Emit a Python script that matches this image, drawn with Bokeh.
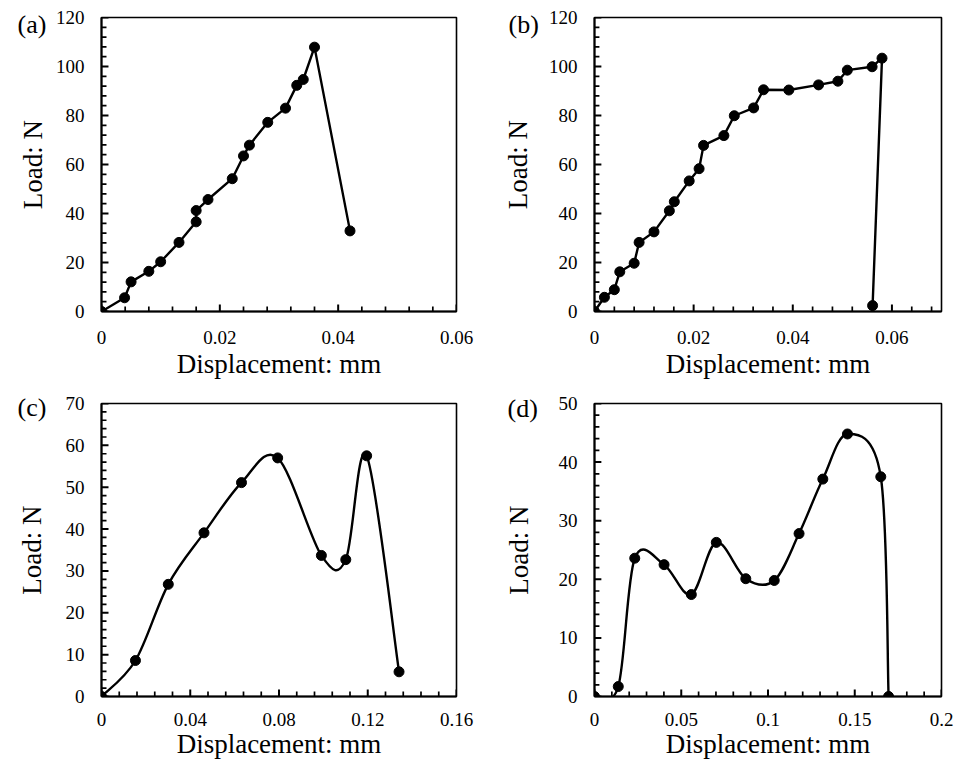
from bokeh.plotting import figure
from bokeh.models import Range1d, FixedTicker, CustomJSTickFormatter
from bokeh.layouts import gridplot
from bokeh.embed import file_html
from bokeh.resources import INLINE
import numpy as np

# ---------------- data ----------------
a_disp = [0, 0.0039, 0.0050, 0.0080, 0.0100, 0.0131, 0.0160, 0.0160, 0.0180, 0.0221,
          0.0240, 0.0250, 0.0281, 0.0311, 0.0330, 0.0341, 0.0360, 0.0420]
a_load = [0, 5.6, 12.1, 16.4, 20.3, 28.2, 36.6, 41.2, 45.7, 54.2,
          63.5, 67.9, 77.2, 83.0, 92.3, 94.7, 107.9, 32.9]

b_disp = [0, 0.0020, 0.0040, 0.0051, 0.0080, 0.0090, 0.0120, 0.0151, 0.0161, 0.0191,
          0.0211, 0.0220, 0.0261, 0.0282, 0.0321, 0.0341, 0.0392, 0.0452, 0.0491,
          0.0510, 0.0560, 0.0580, 0.0561]
b_load = [0, 5.8, 8.9, 16.2, 19.7, 28.2, 32.5, 41.1, 44.8, 53.3,
          58.3, 67.8, 71.8, 79.9, 83.1, 90.5, 90.4, 92.5, 94.0,
          98.5, 99.9, 103.4, 2.4]

c_disp = [0, 0.0153, 0.0301, 0.0462, 0.0631, 0.0794, 0.0991, 0.1101, 0.1195, 0.1341]
c_load = [0, 8.6, 26.8, 39.1, 51.1, 57.0, 33.7, 32.7, 57.5, 5.9]

d_disp = [0, 0.0137, 0.0232, 0.0401, 0.0558, 0.0702, 0.0872, 0.1036, 0.1179, 0.1316,
          0.1458, 0.1650, 0.1695]
d_load = [0, 1.7, 23.6, 22.5, 17.4, 26.3, 20.1, 19.8, 27.8, 37.1,
          44.8, 37.5, 0]

a_xticks = [0, 0.02, 0.04, 0.06]
a_xlabels = ["0", "0.02", "0.04", "0.06"]
a_xmax = 0.06
a_yticks = [0, 20, 40, 60, 80, 100, 120]
a_ylabels = ["0", "20", "40", "60", "80", "100", "120"]

b_xticks = [0, 0.02, 0.04, 0.06]
b_xlabels = ["0", "0.02", "0.04", "0.06"]
b_xmax = 0.07
b_yticks = [0, 20, 40, 60, 80, 100, 120]
b_ylabels = ["0", "20", "40", "60", "80", "100", "120"]

c_xticks = [0, 0.04, 0.08, 0.12, 0.16]
c_xlabels = ["0", "0.04", "0.08", "0.12", "0.16"]
c_xmax = 0.16
c_yticks = [0, 10, 20, 30, 40, 50, 60, 70]
c_ylabels = ["0", "10", "20", "30", "40", "50", "60", "70"]

d_xticks = [0, 0.05, 0.1, 0.15, 0.2]
d_xlabels = ["0", "0.05", "0.1", "0.15", "0.2"]
d_xmax = 0.2
d_yticks = [0, 10, 20, 30, 40, 50]
d_ylabels = ["0", "10", "20", "30", "40", "50"]

x_title = "Displacement: mm"
y_title = "Load: N"
panel_letters = ["(a)", "(b)", "(c)", "(d)"]

FONT = "Liberation Serif"
MAJOR_LEN = 7    # px, inward
MINOR_LEN = 5    # px, inward


def label_formatter(ticks, labels):
    return CustomJSTickFormatter(
        args=dict(t=ticks, l=labels),
        code="""
        for (let i = 0; i < t.length; i++) {
            if (Math.abs(t[i] - tick) < 1e-9) { return l[i]; }
        }
        return '';
        """)


def minor_list(ticks, n, vmax):
    step = (ticks[1] - ticks[0]) / n
    out = []
    k = 1
    while k * step < vmax - 1e-12:
        v = k * step
        if min(abs(v - t) for t in ticks) > 1e-12:
            out.append(v)
        k += 1
    return out


def smooth_segments(xs, ys):
    P = np.column_stack([xs, ys]).astype(float)
    n = len(P)
    seg = dict(x0=[], y0=[], x1=[], y1=[], cx0=[], cy0=[], cx1=[], cy1=[])
    for i in range(n - 1):
        pp = P[i - 1] if i > 0 else P[i]
        pn = P[i + 2] if i + 2 < n else P[i + 1]
        c0 = P[i] + (P[i + 1] - pp) / 6.0
        c1 = P[i + 1] - (pn - P[i]) / 6.0
        seg["x0"].append(P[i][0]); seg["y0"].append(P[i][1])
        seg["x1"].append(P[i + 1][0]); seg["y1"].append(P[i + 1][1])
        seg["cx0"].append(c0[0]); seg["cy0"].append(c0[1])
        seg["cx1"].append(c1[0]); seg["cy1"].append(c1[1])
    return seg


def make_panel(w, h, borders, xt, xl, xmax, yt, yl, xs, ys, smooth, letter,
               letter_offset, letter_standoff, x_std, x_lab_std, y_lab_std):
    L, R, T, B = borders
    ymax = yt[-1]
    fw = w - L - R
    fh = h - T - B
    p = figure(width=w, height=h, output_backend="svg", toolbar_location=None,
               x_range=Range1d(0, xmax), y_range=Range1d(0, ymax),
               min_border_left=L, min_border_right=R, min_border_top=T,
               min_border_bottom=B)
    p.background_fill_color = "white"
    p.border_fill_color = "white"
    p.xgrid.visible = False
    p.ygrid.visible = False
    p.outline_line_color = "black"
    p.outline_line_width = 1.6
    p.outline_line_alpha = 1.0

    p.title.text = letter
    p.title.align = "left"
    p.title.offset = letter_offset
    p.title.standoff = letter_standoff
    p.title.text_font = FONT
    p.title.text_font_size = "26px"
    p.title.text_font_style = "normal"
    p.title.text_color = "black"

    xminor = minor_list(xt, 5, xmax)
    yminor = minor_list(yt, 5, ymax)
    p.xaxis.ticker = FixedTicker(ticks=xt, minor_ticks=xminor)
    p.yaxis.ticker = FixedTicker(ticks=yt, minor_ticks=yminor)
    p.xaxis.formatter = label_formatter(xt, xl)
    p.yaxis.formatter = label_formatter(yt, yl)
    p.xaxis.axis_label = x_title
    p.yaxis.axis_label = y_title
    for ax in (p.xaxis[0], p.yaxis[0]):
        ax.axis_line_color = "black"
        ax.axis_line_width = 2
        ax.major_tick_in = 0
        ax.major_tick_out = 0
        ax.minor_tick_in = 0
        ax.minor_tick_out = 0
        ax.major_label_text_font = FONT
        ax.major_label_text_font_size = "19px"
        ax.major_label_text_color = "black"
        ax.axis_label_text_font = FONT
        ax.axis_label_text_font_size = "27px"
        ax.axis_label_text_font_style = "normal"
        ax.axis_label_text_color = "black"
    p.xaxis.major_label_standoff = x_std
    p.xaxis.axis_label_standoff = x_lab_std
    p.yaxis.major_label_standoff = 17
    p.yaxis.axis_label_standoff = y_lab_std

    # inward tick marks drawn as short segments (length converted from px to data units)
    dx_major = MAJOR_LEN * xmax / fw
    dx_minor = MINOR_LEN * xmax / fw
    dy_major = MAJOR_LEN * ymax / fh
    dy_minor = MINOR_LEN * ymax / fh
    p.segment(x0=[0] * len(yt), y0=yt, x1=[dx_major] * len(yt), y1=yt,
              line_color="black", line_width=2)
    p.segment(x0=[0] * len(yminor), y0=yminor, x1=[dx_minor] * len(yminor), y1=yminor,
              line_color="black", line_width=1.7)
    p.segment(x0=xt, y0=[0] * len(xt), x1=xt, y1=[dy_major] * len(xt),
              line_color="black", line_width=2)
    p.segment(x0=xminor, y0=[0] * len(xminor), x1=xminor, y1=[dy_minor] * len(xminor),
              line_color="black", line_width=1.7)

    if smooth:
        seg = smooth_segments(xs, ys)
        p.bezier(source=seg, x0="x0", y0="y0", x1="x1", y1="y1",
                 cx0="cx0", cy0="cy0", cx1="cx1", cy1="cy1",
                 line_color="black", line_width=2.4)
    else:
        p.line(xs, ys, line_color="black", line_width=2.4)
    p.scatter(xs, ys, size=10, fill_color="black", line_color="black")
    return p


pa = make_panel(484, 385, (100, 28, 17, 72), a_xticks, a_xlabels, a_xmax, a_yticks, a_ylabels,
                a_disp, a_load, False, panel_letters[0], -84, -42, 19, 2, 5)
pb = make_panel(484, 385, (104, 27, 14, 74), b_xticks, b_xlabels, b_xmax, b_yticks, b_ylabels,
                b_disp, b_load, False, panel_letters[1], -86, -43, 19, 2, 13)
pc = make_panel(484, 379, (101, 28, 18, 66), c_xticks, c_xlabels, c_xmax, c_yticks, c_ylabels,
                c_disp, c_load, True, panel_letters[2], -84, -36, 16, 0, 16)
pd = make_panel(484, 379, (110, 20, 16, 68), d_xticks, d_xlabels, d_xmax, d_yticks, d_ylabels,
                d_disp, d_load, True, panel_letters[3], -87, -38, 16, 0, 22)

grid = gridplot([[pa, pb], [pc, pd]], toolbar_location=None)

open("out.html", "w").write(file_html(grid, INLINE))
